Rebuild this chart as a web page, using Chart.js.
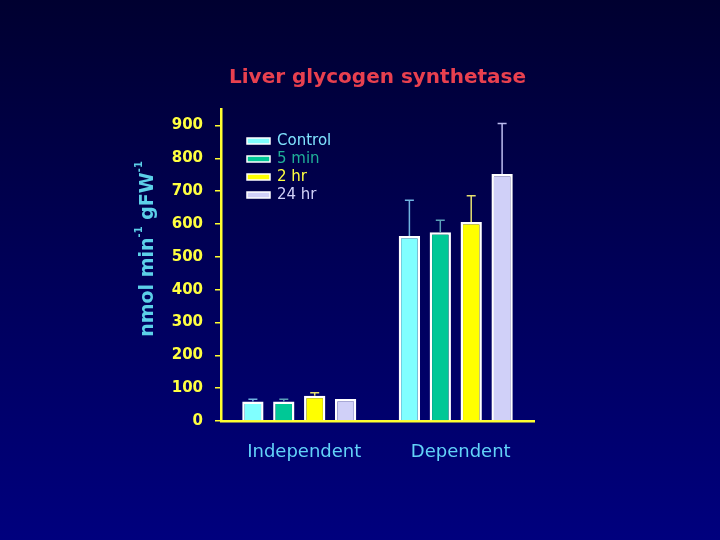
<!DOCTYPE html>
<html>
<head>
<meta charset="utf-8">
<script src="https://cdn.jsdelivr.net/npm/chart.js@4/dist/chart.umd.min.js"></script>
<style>
html,body{margin:0;padding:0;}
body{width:720px;height:540px;background:linear-gradient(to bottom,#000030 0%,#000058 50%,#00007e 100%);overflow:hidden;}
canvas{display:block;}
</style>
</head>
<body>
<canvas id="c" width="720" height="540"></canvas>
<script>
const categories = ['Independent', 'Dependent'];
const seriesNames = ['Control', '5 min', '2 hr', '24 hr'];
const controlValues = [59, 563];
const fiveMinValues = [59, 575];
const twoHrValues = [77, 606];
const twentyFourHrValues = [67, 752];
const controlErrors = [7, 109];
const fiveMinErrors = [7, 36];
const twoHrErrors = [9, 80];
const twentyFourHrErrors = [0, 154];
const yTickValues = [0, 100, 200, 300, 400, 500, 600, 700, 800, 900];

const FONT = '"DejaVu Sans", Verdana, sans-serif';
const barColors = ['#80ffff', '#00c896', '#ffff00', '#d0d0f8'];
const errColors = ['#70b4e0', '#5aa0b8', '#e6e070', '#bcbcf0'];
const legendTextColors = ['#80e4ff', '#20b098', '#ffff40', '#d0d0f8'];

const values = [controlValues, fiveMinValues, twoHrValues, twentyFourHrValues];
const errors = [controlErrors, fiveMinErrors, twoHrErrors, twentyFourHrErrors];

const datasets = seriesNames.map((name, i) => ({
  label: name,
  data: values[i],
  errors: errors[i],
  backgroundColor: barColors[i],
  borderColor: '#ffffff',
  borderWidth: 2.5,
  barPercentage: 0.69,
  categoryPercentage: 0.79
}));

const extras = {
  id: 'extras',
  afterDatasetsDraw(chart) {
    const ctx = chart.ctx;
    const y = chart.scales.y;
    chart.data.datasets.forEach((ds, i) => {
      const meta = chart.getDatasetMeta(i);
      meta.data.forEach((bar, j) => {
        const e = ds.errors[j];
        if (!e) return;
        const top = y.getPixelForValue(ds.data[j]);
        const hi = y.getPixelForValue(ds.data[j] + e);
        ctx.save();
        ctx.strokeStyle = errColors[i];
        ctx.lineWidth = 1.5;
        ctx.beginPath();
        ctx.moveTo(bar.x, top);
        ctx.lineTo(bar.x, hi);
        ctx.moveTo(bar.x - 4.5, hi);
        ctx.lineTo(bar.x + 4.5, hi);
        ctx.stroke();
        ctx.restore();
      });
    });
  },
  afterDraw(chart) {
    const ctx = chart.ctx;
    // legend
    ctx.save();
    chart.data.datasets.forEach((ds, i) => {
      const cy = 141 + i * 18;
      ctx.fillStyle = ds.backgroundColor;
      ctx.fillRect(247, cy - 3, 23, 6);
      ctx.strokeStyle = '#ffffff';
      ctx.lineWidth = 1.5;
      ctx.strokeRect(247, cy - 3, 23, 6);
      ctx.fillStyle = legendTextColors[i];
      ctx.font = '15px ' + FONT;
      ctx.textBaseline = 'alphabetic';
      ctx.textAlign = 'left';
      ctx.fillText(ds.label, 277, cy + 4);
    });
    ctx.restore();
    // y axis title with superscripts
    ctx.save();
    ctx.translate(146, 249);
    ctx.rotate(-Math.PI / 2);
    ctx.fillStyle = '#5cd0e8';
    const parts = [
      {t: 'nmol min', sup: false},
      {t: '-1', sup: true},
      {t: ' gFW', sup: false},
      {t: '-1', sup: true}
    ];
    const mainFont = 'bold 19px ' + FONT;
    const supFont = 'bold 10px ' + FONT;
    let total = 0;
    parts.forEach(p => { ctx.font = p.sup ? supFont : mainFont; p.w = ctx.measureText(p.t).width; total += p.w; });
    let x = -total / 2;
    ctx.textBaseline = 'alphabetic';
    ctx.textAlign = 'left';
    parts.forEach(p => {
      ctx.font = p.sup ? supFont : mainFont;
      ctx.fillText(p.t, x, p.sup ? -4 : 6.5);
      x += p.w;
    });
    ctx.restore();
  }
};

new Chart(document.getElementById('c'), {
  type: 'bar',
  data: { labels: categories, datasets: datasets },
  plugins: [extras],
  options: {
    responsive: false,
    animation: false,
    layout: { padding: { left: 0, top: 0, right: 186, bottom: 0 } },
    plugins: {
      legend: { display: false },
      tooltip: { enabled: false },
      title: {
        display: true,
        text: 'Liver glycogen synthetase',
        color: '#e8404f',
        fullSize: false,
        font: { family: FONT, size: 20, weight: 'bold', lineHeight: 1.2 },
        padding: { top: 66, bottom: 19 }
      }
    },
    scales: {
      x: {
        afterFit(scale) { scale.height = 119; },
        grid: { display: false },
        border: { display: true, color: '#ffff30', width: 2.5 },
        ticks: {
          color: '#62d2f8',
          font: { family: FONT, size: 18 },
          padding: 13,
          labelOffset: 5
        }
      },
      y: {
        min: 0,
        max: 950,
        afterFit(scale) { scale.width = 221; },
        afterBuildTicks(scale) { scale.ticks = yTickValues.map(v => ({ value: v })); },
        grid: { display: true, drawOnChartArea: false, drawTicks: true, tickLength: 6, color: '#ffff30', lineWidth: 1.5 },
        border: { display: true, color: '#ffff30', width: 2.5 },
        ticks: {
          color: '#ffff40',
          font: { family: FONT, size: 15, weight: 'bold' },
          padding: 12
        }
      }
    }
  }
});
</script>
</body>
</html>
